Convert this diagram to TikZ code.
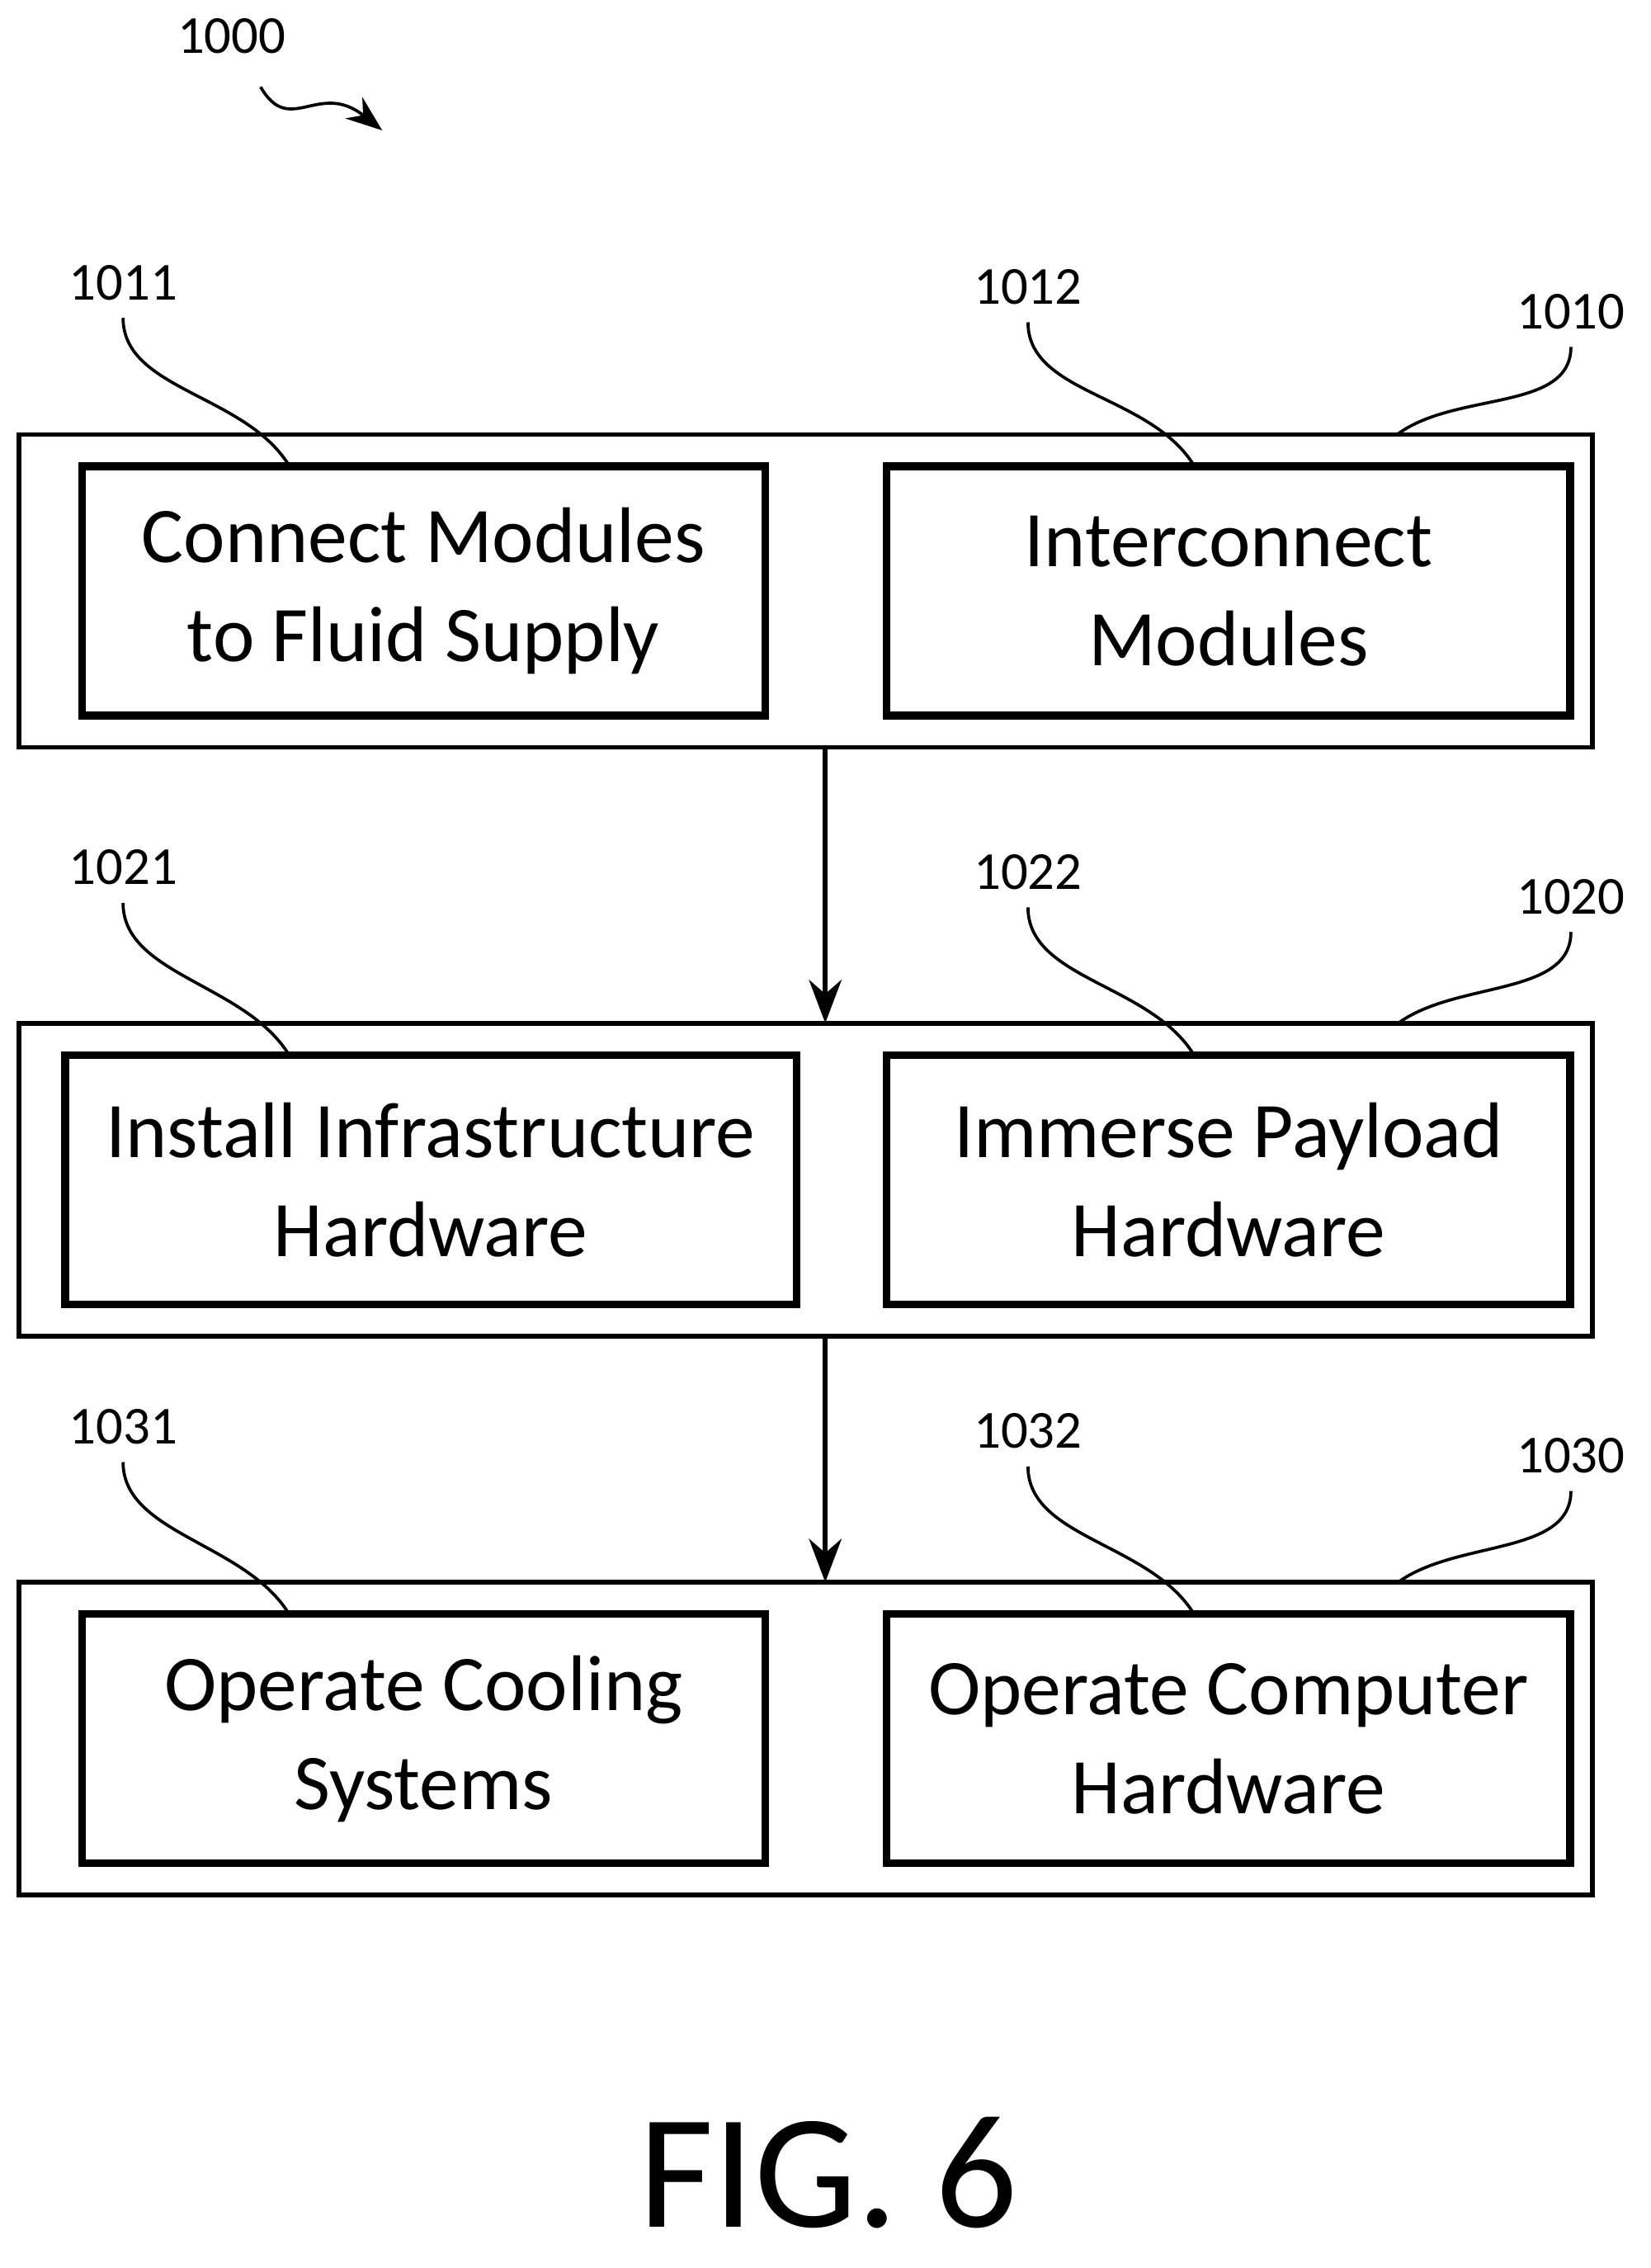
\documentclass[tikz,border=0pt]{standalone}
\usepackage{fontspec}
\setmainfont{Carlito}
\usetikzlibrary{positioning,arrows.meta}
\begin{document}
\begin{tikzpicture}
           [outer/.style = {draw,line width=0.9pt,minimum width=10.87cm,minimum height=2.16cm},
            inner/.style = {draw,line width=1.5pt,minimum width=4.72cm,minimum height=1.72cm,align=center,font=\fontsize{15.5}{19.5}\selectfont},
            lbl/.style = {font=\fontsize{10.5}{12}\selectfont},
            lead/.style = {line width=0.6pt}]
            \useasboundingbox (0,0) rectangle (11.4,-15.66);
            % stages
            \node[outer] (S1) at (5.565,-4.08) {};
            \node[outer] (S2) at (5.565,-8.145) {};
            \node[outer] (S3) at (5.565,-12.005) {};
            \node[inner] (B11) at (2.925,-4.08) {Connect Modules\\to Fluid Supply};
            \node[inner] (B12) at (8.485,-4.08) {Interconnect\\Modules};
            \node[inner,minimum width=5.05cm] (B21) at (2.975,-8.145) {Install Infrastructure\\Hardware};
            \node[inner] (B22) at (8.485,-8.145) {Immerse Payload\\Hardware};
            \node[inner] (B31) at (2.925,-12.005) {Operate Cooling\\Systems};
            \node[inner] (B32) at (8.485,-12.005) {Operate Computer\\Hardware};

            \draw[-{Stealth[length=3mm]},line width=0.9pt] (5.7,-5.16) -- (5.7,-7.065);
            \draw[-{Stealth[length=3mm]},line width=0.9pt] (5.7,-9.225) -- (5.7,-10.925);

            % reference numerals
            \node[lbl] (L1000) at (1.6,-0.25) {1000};
            \draw[lead,-{Stealth[length=2.5mm]}] (1.8,-0.6) .. controls (2.0,-0.95) and (2.2,-0.55) .. (2.64,-0.9);
            \foreach \n/\y/\by in {1/1.95/3.0, 2/5.99/7.07, 3/9.85/10.93} {
              \node[lbl] (L10\n1) at (0.85,-\y) {10\n1};
              \node[lbl] (L10\n2) at (7.1,-\y-0.03) {10\n2};
              \node[lbl] (L10\n0) at (10.85,-\y-0.2) {10\n0};
              \draw[lead] (L10\n1.south) .. controls +(0,-0.5) and +(-0.3,0.5) .. (2.0,-\by-0.22);
              \draw[lead] (L10\n2.south) .. controls +(0,-0.5) and +(-0.3,0.5) .. (8.25,-\by-0.22);
              \draw[lead] (L10\n0.south) .. controls +(0,-0.45) and +(0.4,0.3) .. (9.65,-\by);
            }
            \node[font=\fontsize{32}{36}\selectfont] (FIG) at (5.72,-15.0) {FIG. 6};
\end{tikzpicture}
\end{document}
